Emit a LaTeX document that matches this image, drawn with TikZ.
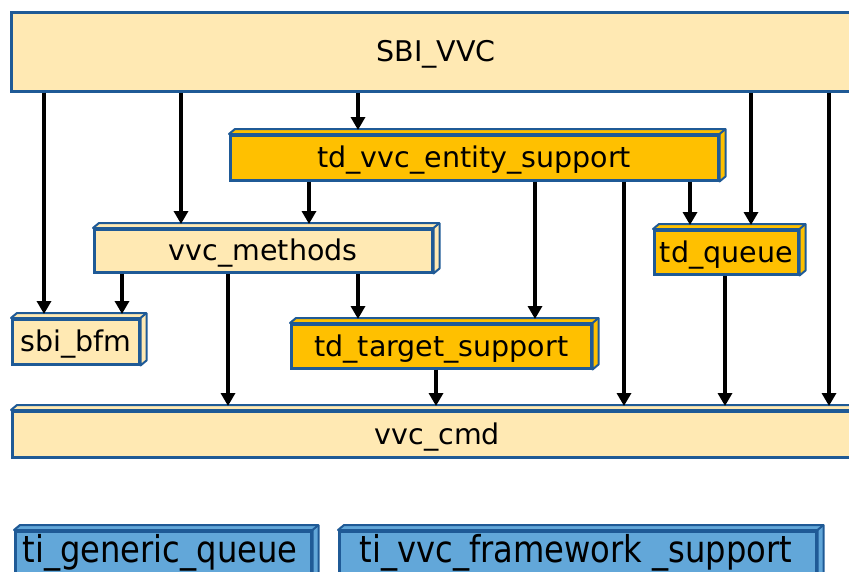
\documentclass[tikz,border=0pt]{standalone}
\usepackage{fontspec}
\setmainfont{DejaVu Sans}
\usetikzlibrary{arrows.meta,calc}
\definecolor{lightbox}{HTML}{FFE9B3}
\definecolor{orangebox}{HTML}{FFC000}
\definecolor{bluebox}{HTML}{62A7D9}
\definecolor{edgeblue}{HTML}{1F5A96}
\tikzset{
  box/.style={draw=edgeblue, line width=2.5pt, rectangle, inner sep=0pt, anchor=north west,
    text height=20pt, text depth=0pt,
    font=\fontsize{28.5}{30}\selectfont},
  arr/.style={line width=4pt, -{Triangle[width=14pt,length=13pt]}},
  face/.style={draw=edgeblue, line width=2pt, line join=round},
  bigtext/.style={font=\fontsize{37}{40}\selectfont, xscale=0.87, anchor=base, inner sep=0pt}
}
\newcommand\boxfaces[2]{%
  \draw[face, fill=#2] (#1.north west) -- ++(6,-5) -- ($(#1.north east)+(6,-5)$)
     -- ($(#1.south east)+(6,-5)$) -- (#1.south east) -- (#1.north east) -- cycle;
  \draw[face] (#1.north east) -- ++(6,-5);
}
\begin{document}
\begin{tikzpicture}[x=1pt,y=-1pt]
\useasboundingbox (0,0) rectangle (849,571);
% boxes
\node[box, fill=lightbox, minimum width=850pt, minimum height=79pt] (sbi) at (10,11) {SBI\_VVC};
\node[box, fill=orangebox, minimum width=488pt, minimum height=45pt] (ent) at (229,134) {td\_vvc\_entity\_support};
\node[box, fill=lightbox, minimum width=338pt, minimum height=43pt] (meth) at (93,228) {vvc\_methods};
\node[box, fill=orangebox, minimum width=144pt, minimum height=44pt] (queue) at (653,229) {td\_queue};
\node[box, fill=lightbox, minimum width=127pt, minimum height=45pt] (bfm) at (11,318) {sbi\_bfm};
\node[box, fill=orangebox, minimum width=300pt, minimum height=44pt] (targ) at (290,323) {td\_target\_support};
\node[box, fill=lightbox, minimum width=850pt, minimum height=46pt] (cmd) at (11,410) {vvc\_cmd};
\node[box, fill=bluebox, minimum width=296pt, minimum height=60pt] (gq) at (14,530) {};
\node[box, fill=bluebox, minimum width=477pt, minimum height=60pt] (fw) at (338,530) {};
\node[bigtext] (gqt) at (160,562) {ti\_generic\_queue};
\node[bigtext] (fwt) at (576,562) {ti\_vvc\_framework \_support};
\boxfaces{ent}{orangebox}
\boxfaces{meth}{lightbox}
\boxfaces{queue}{orangebox}
\boxfaces{bfm}{lightbox}
\boxfaces{targ}{orangebox}
\boxfaces{cmd}{lightbox}
\boxfaces{gq}{bluebox}
\boxfaces{fw}{bluebox}
% arrows
\draw[arr] (44,0 |- sbi.south) -- ([yshift=4pt]44,0 |- bfm.north);
\draw[arr] (181,0 |- sbi.south) -- ([yshift=4pt]181,0 |- meth.north);
\draw[arr] (358,0 |- sbi.south) -- ([yshift=4pt]358,0 |- ent.north);
\draw[arr] (751,0 |- sbi.south) -- ([yshift=4pt]751,0 |- queue.north);
\draw[arr] (829,0 |- sbi.south) -- ([yshift=4pt]829,0 |- cmd.north);
\draw[arr] (309,0 |- ent.south) -- ([yshift=4pt]309,0 |- meth.north);
\draw[arr] (535,0 |- ent.south) -- ([yshift=4pt]535,0 |- targ.north);
\draw[arr] (624,0 |- ent.south) -- ([yshift=4pt]624,0 |- cmd.north);
\draw[arr] (690,0 |- ent.south) -- ([yshift=4pt]690,0 |- queue.north);
\draw[arr] (122,0 |- meth.south) -- ([yshift=4pt]122,0 |- bfm.north);
\draw[arr] (228,0 |- meth.south) -- ([yshift=4pt]228,0 |- cmd.north);
\draw[arr] (358,0 |- meth.south) -- ([yshift=4pt]358,0 |- targ.north);
\draw[arr] (436,0 |- targ.south) -- ([yshift=4pt]436,0 |- cmd.north);
\draw[arr] (725,0 |- queue.south) -- ([yshift=4pt]725,0 |- cmd.north);
\end{tikzpicture}
\end{document}
